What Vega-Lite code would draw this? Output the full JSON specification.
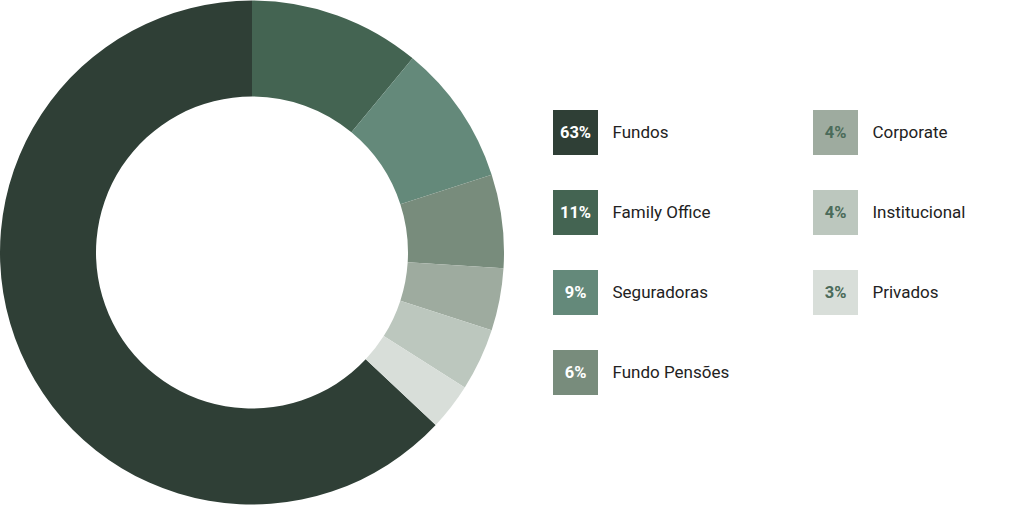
{
  "$schema": "https://vega.github.io/schema/vega-lite/v6.json",
  "padding": 0,
  "autosize": {"type": "pad"},
  "background": "white",
  "config": {"view": {"stroke": null}, "font": "Roboto"},
  "spacing": 0,
  "data": {"values": [
    {"idx": 0, "name": "Fundos", "value": 63},
    {"idx": 1, "name": "Family Office", "value": 11},
    {"idx": 2, "name": "Seguradoras", "value": 9},
    {"idx": 3, "name": "Fundo Pensões", "value": 6},
    {"idx": 4, "name": "Corporate", "value": 4},
    {"idx": 5, "name": "Institucional", "value": 4},
    {"idx": 6, "name": "Privados", "value": 3}
  ]},
  "transform": [
    {"calculate": "datum.idx == 0 ? 7 : datum.idx", "as": "pieOrder"},
    {"calculate": "datum.idx < 4 ? 0 : 1", "as": "col"},
    {"calculate": "datum.idx < 4 ? datum.idx : datum.idx - 4", "as": "row"},
    {"calculate": "datum.value + '%'", "as": "pct"}
  ],
  "hconcat": [
    {
      "width": 504,
      "height": 505,
      "mark": {"type": "arc", "outerRadius": 252, "innerRadius": 156},
      "encoding": {
        "theta": {"field": "value", "type": "quantitative", "stack": true},
        "order": {"field": "pieOrder", "type": "quantitative"},
        "color": {
          "field": "name", "type": "nominal", "legend": null,
          "scale": {
            "domain": ["Fundos", "Family Office", "Seguradoras", "Fundo Pensões", "Corporate", "Institucional", "Privados"],
            "range": ["#2f3f36", "#446452", "#64897a", "#788c7c", "#9eab9f", "#bcc7be", "#d8ded9"]
          }
        }
      }
    },
    {
      "width": 520,
      "height": 505,
      "encoding": {
        "x": {"field": "col", "type": "quantitative", "axis": null, "scale": {"domain": [0, 1], "range": [71.5, 331.5]}},
        "y": {"field": "row", "type": "quantitative", "axis": null, "scale": {"domain": [0, 3], "range": [132.5, 372.5]}}
      },
      "layer": [
        {
          "mark": {"type": "square", "size": 2025, "filled": true, "opacity": 1},
          "encoding": {
            "color": {
              "field": "name", "type": "nominal", "legend": null,
              "scale": {
                "domain": ["Fundos", "Family Office", "Seguradoras", "Fundo Pensões", "Corporate", "Institucional", "Privados"],
                "range": ["#2f3f36", "#446452", "#64897a", "#788c7c", "#9eab9f", "#bcc7be", "#d8ded9"]
              }
            }
          }
        },
        {
          "mark": {"type": "text", "font": "Roboto", "fontSize": 16.5, "fontWeight": "bold", "align": "center", "baseline": "middle"},
          "encoding": {
            "text": {"field": "pct"},
            "color": {"condition": {"test": "datum.idx < 4", "value": "#ffffff"}, "value": "#4b6b5a"}
          }
        },
        {
          "mark": {"type": "text", "font": "Roboto", "fontSize": 17, "align": "left", "baseline": "middle", "dx": 37, "color": "#222222"},
          "encoding": {"text": {"field": "name"}}
        }
      ]
    }
  ]
}
